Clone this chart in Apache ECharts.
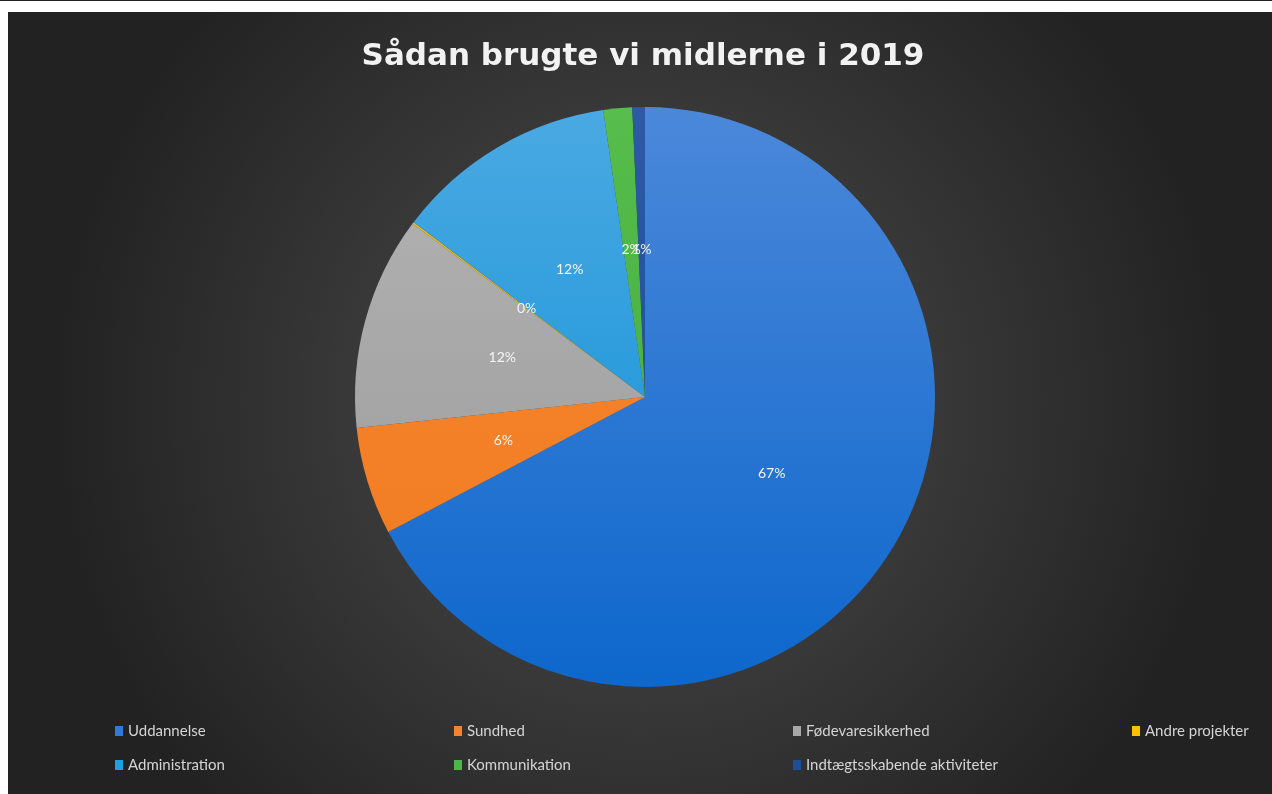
<!DOCTYPE html>
<html>
<head>
<meta charset="utf-8">
<script src="https://cdn.jsdelivr.net/npm/echarts@6/dist/echarts.min.js"></script>
<style>
  html, body { margin: 0; padding: 0; background: #ffffff; }
  body { width: 1272px; height: 794px; position: relative; overflow: hidden; }
  #topline { position: absolute; left: 0; top: 0; width: 1272px; height: 1px; background: #222; }
  #chart { position: absolute; left: 8px; top: 12px; width: 1264px; height: 782px; }
</style>
</head>
<body>
<div id="topline"></div>
<div id="chart"></div>
<script>
// slice data (percent of total spending)
var categories = [
  "Uddannelse",
  "Sundhed",
  "Fødevaresikkerhed",
  "Andre projekter",
  "Administration",
  "Kommunikation",
  "Indtægtsskabende aktiviteter"
];
var values = [67.3, 6.0, 11.9, 0.1, 12.4, 1.6, 0.7];

// top / bottom colours of each slice gradient
var topColors = ["#4b88da", "#f88934", "#b4b4b4", "#ffc000", "#4aa9e2", "#57bd4c", "#2c5aa6"];
var bottomColors = ["#0d67cc", "#f07a1e", "#989898", "#f0b400", "#0a8ed6", "#3aa83a", "#1a4a94"];
var legendColors = ["#2f7ad6", "#f5832f", "#a8a8a8", "#ffc000", "#1ea0e0", "#4cb848", "#1f4e99"];

var chart = echarts.init(document.getElementById("chart"));

// pie geometry in chart pixels
var cx = 637, cy = 385, r = 290;

var data = categories.map(function (name, i) {
  return {
    name: name,
    value: values[i],
    itemStyle: {
      color: {
        type: "linear", global: true,
        x: 0, y: cy - r, x2: 0, y2: cy + r,
        colorStops: [
          { offset: 0, color: topColors[i] },
          { offset: 1, color: bottomColors[i] }
        ]
      }
    }
  };
});

var option = {
  backgroundColor: {
    type: "radial", x: 0.5, y: 0.5, r: 0.75,
    colorStops: [
      { offset: 0, color: "#4e4e4e" },
      { offset: 1, color: "#222222" }
    ]
  },
  title: {
    text: "Sådan brugte vi midlerne i 2019",
    left: 630,
    textAlign: "center",
    top: 24,
    textStyle: {
      color: "#f2f2f2",
      fontFamily: "DejaVu Sans",
      fontWeight: "bold",
      fontSize: 31
    }
  },
  legend: {
    left: 107,
    top: 707,
    width: 1400,
    padding: 0,
    orient: "horizontal",
    icon: "rect",
    itemWidth: 8,
    itemHeight: 10,
    itemGap: 10,
    data: categories.map(function (name, i) {
      return { name: name, itemStyle: { color: legendColors[i] } };
    }),
    textStyle: {
      color: "#d4d4d4",
      fontFamily: "Lato",
      fontSize: 15,
      width: 316,
      lineHeight: 24,
      height: 24
    }
  },
  series: [
    {
      type: "pie",
      center: [cx, cy],
      radius: [0, r],
      startAngle: 90,
      clockwise: true,
      data: data,
      animation: false,
      label: {
        show: true,
        position: "inside",
        color: "#f4f4f4",
        fontFamily: "Lato",
        fontSize: 14,
        formatter: function (p) {
          return Math.round(p.percent) + "%";
        }
      },
      labelLayout: { hideOverlap: false },
      labelLine: { show: false },
      emphasis: { disabled: true }
    }
  ]
};

chart.setOption(option);
</script>
</body>
</html>
